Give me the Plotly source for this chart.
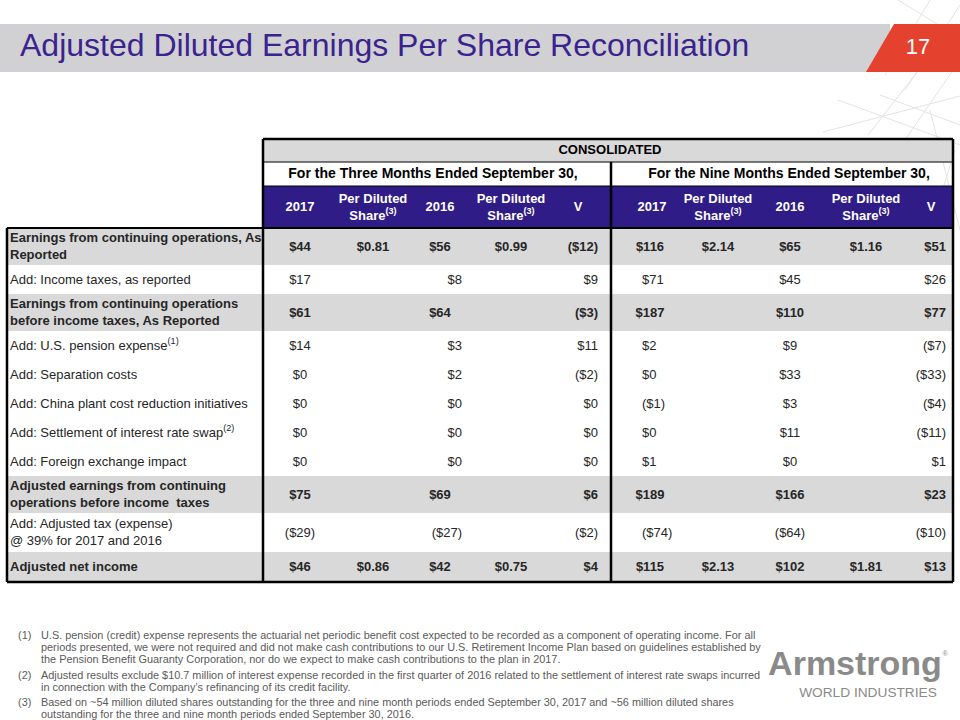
import plotly.graph_objects as go

# ---------------- data ----------------
title = "Adjusted Diluted Earnings Per Share Reconciliation"
page_no = "17"
group_title = "CONSOLIDATED"
period_titles = ["For the Three Months Ended September 30,", "For the Nine Months Ended September 30,"]
col_headers = ["2017", "Per Diluted<br>Share<sup>(3)</sup>", "2016", "Per Diluted<br>Share<sup>(3)</sup>", "V",
               "2017", "Per Diluted<br>Share<sup>(3)</sup>", "2016", "Per Diluted<br>Share<sup>(3)</sup>", "V"]

labels = [
    "Earnings from continuing operations, As<br>Reported",
    "Add: Income taxes, as reported",
    "Earnings from continuing operations<br>before income taxes, As Reported",
    "Add: U.S. pension expense<sup>(1)</sup>",
    "Add: Separation costs",
    "Add: China plant cost reduction initiatives",
    "Add: Settlement of interest rate swap<sup>(2)</sup>",
    "Add: Foreign exchange impact",
    "Adjusted earnings from continuing<br>operations before income  taxes",
    "Add: Adjusted tax (expense)<br>@ 39% for 2017 and 2016",
    "Adjusted net income",
]
bold_rows = [True, False, True, False, False, False, False, False, True, False, True]

q3_2017 = ["$44", "$17", "$61", "$14", "$0", "$0", "$0", "$0", "$75", "($29)", "$46"]
q3_2017_ps = ["$0.81", "", "", "", "", "", "", "", "", "", "$0.86"]
q3_2016 = ["$56", "$8", "$64", "$3", "$2", "$0", "$0", "$0", "$69", "($27)", "$42"]
q3_2016_ps = ["$0.99", "", "", "", "", "", "", "", "", "", "$0.75"]
q3_var = ["($12)", "$9", "($3)", "$11", "($2)", "$0", "$0", "$0", "$6", "($2)", "$4"]
ytd_2017 = ["$116", "$71", "$187", "$2", "$0", "($1)", "$0", "$1", "$189", "($74)", "$115"]
ytd_2017_ps = ["$2.14", "", "", "", "", "", "", "", "", "", "$2.13"]
ytd_2016 = ["$65", "$45", "$110", "$9", "$33", "$3", "$11", "$0", "$166", "($64)", "$102"]
ytd_2016_ps = ["$1.16", "", "", "", "", "", "", "", "", "", "$1.81"]
ytd_var = ["$51", "$26", "$77", "($7)", "($33)", "($4)", "($11)", "$1", "$23", "($10)", "$13"]

footnotes = [
    ("(1)", ["U.S. pension (credit) expense represents the actuarial net periodic benefit cost expected to be recorded as a component of operating income. For all",
             "periods presented, we were not required and did not make cash contributions to our U.S. Retirement Income Plan based on guidelines established by",
             "the Pension Benefit Guaranty Corporation, nor do we expect to make cash contributions to the plan in 2017."]),
    ("(2)", ["Adjusted results exclude $10.7 million of interest expense recorded in the first quarter of 2016 related to the settlement of interest rate swaps incurred",
             "in connection with the Company\u2019s refinancing of its credit facility."]),
    ("(3)", ["Based on ~54 million diluted shares outstanding for the three and nine month periods ended September 30, 2017 and ~56 million diluted shares",
             "outstanding for the three and nine month periods ended September 30, 2016."]),
]

# ---------------- layout constants ----------------
FONT = "Arial, 'Liberation Sans', sans-serif"
PURPLE = "#2f1c87"
TITLE_C = "#3a238f"
GRAY_ROW = "#d9d9d9"
TXT = "#262626"

L_X0, T_X0, T_MID, T_X1 = 7, 263, 611, 953
Y_TOP, Y_PER, Y_HDR, Y_BODY = 139, 162, 186, 228
row_heights = [37, 29, 37, 29, 29, 29, 29, 29, 37, 39, 30]

row_top = []
y = Y_BODY
for h in row_heights:
    row_top.append(y)
    y += h
Y_BOT = y
row_mid = [t + h / 2 for t, h in zip(row_top, row_heights)]

hdr_x = [300, 373, 440, 511, 578, 652, 718, 790, 866, 931]

# (series, x for normal rows, pos for normal, x for bold rows, pos for bold)
col_specs = [
    (q3_2017, 300, "middle center", 300, "middle center"),
    (q3_2017_ps, 373, "middle center", 373, "middle center"),
    (q3_2016, 462, "middle left", 440, "middle center"),
    (q3_2016_ps, 511, "middle center", 511, "middle center"),
    (q3_var, 598, "middle left", 598, "middle left"),
    (ytd_2017, 642, "middle right", 650, "middle center"),
    (ytd_2017_ps, 718, "middle center", 718, "middle center"),
    (ytd_2016, 790, "middle center", 790, "middle center"),
    (ytd_2016_ps, 866, "middle center", 866, "middle center"),
    (ytd_var, 946, "middle left", 946, "middle left"),
]

fig = go.Figure()
shapes = []

# background decorative lattice
deco = [
    (898, 0, 960, 38), (930, 0, 885, 75), (960, 5, 905, 90),
    (823, 132, 960, 96), (838, 100, 960, 145), (868, 135, 925, 62),
    (905, 140, 960, 60), (930, 110, 960, 230), (955, 150, 930, 230),
    (880, 95, 960, 125),
]
for x0, y0, x1, y1 in deco:
    shapes.append(dict(type="line", x0=x0, y0=y0, x1=x1, y1=y1, xref="x", yref="y",
                       line=dict(color="#e3e3e3", width=1), layer="below"))

# title band
shapes.append(dict(type="rect", x0=0, x1=890, y0=24, y1=72, xref="x", yref="y",
                   fillcolor="#d1d1d3", line=dict(width=0), layer="below"))
shapes.append(dict(type="path", path="M 894 24 L 960 24 L 960 72 L 866 72 Z", xref="x", yref="y",
                   fillcolor="#e5412f", line=dict(width=0), layer="below"))

# table fills
shapes.append(dict(type="rect", x0=T_X0, x1=T_X1, y0=Y_TOP, y1=Y_PER, xref="x", yref="y",
                   fillcolor=GRAY_ROW, line=dict(width=0), layer="below"))
shapes.append(dict(type="rect", x0=T_X0, x1=T_X1, y0=Y_HDR, y1=Y_BODY, xref="x", yref="y",
                   fillcolor=PURPLE, line=dict(width=0), layer="below"))
for i, b in enumerate(bold_rows):
    if b:
        shapes.append(dict(type="rect", x0=L_X0, x1=T_X1, y0=row_top[i], y1=row_top[i] + row_heights[i],
                           xref="x", yref="y", fillcolor=GRAY_ROW, line=dict(width=0), layer="below"))

# borders
def ln(x0, y0, x1, y1, w=2.5):
    shapes.append(dict(type="line", x0=x0, y0=y0, x1=x1, y1=y1, xref="x", yref="y",
                       line=dict(color="black", width=w)))

ln(T_X0, Y_TOP, T_X1, Y_TOP)
ln(T_X1, Y_TOP, T_X1, Y_BOT)
ln(L_X0, Y_BOT, T_X1, Y_BOT)
ln(L_X0, Y_BODY, L_X0, Y_BOT)
ln(L_X0, Y_BODY, T_X1, Y_BODY, 2)
ln(T_X0, Y_TOP, T_X0, Y_BOT)
ln(T_MID, Y_PER, T_MID, Y_BOT)
ln(T_X0, Y_PER, T_X1, Y_PER, 1.2)
ln(T_X0, Y_HDR, T_X1, Y_HDR, 1)

def text_trace(xs, ys, texts, pos, size=13, color=TXT, family=FONT):
    fig.add_trace(go.Scatter(x=xs, y=ys, mode="text", text=texts, textposition=pos,
                             textfont=dict(size=size, color=color, family=family),
                             hoverinfo="skip", showlegend=False))

# title + page number
text_trace([20], [48], [title], "middle right", size=32, color=TITLE_C)
text_trace([918], [48], [page_no], "middle center", size=22, color="white")

# header texts
text_trace([610], [(Y_TOP + Y_PER) / 2], ["<b>" + group_title + "</b>"], "middle center", color="black")
text_trace([433, 789], [(Y_PER + Y_HDR) / 2] * 2, ["<b>" + t + "</b>" for t in period_titles],
           "middle center", size=14, color="black")
text_trace(hdr_x, [(Y_HDR + Y_BODY) / 2 + 1] * len(hdr_x), ["<b>" + t + "</b>" for t in col_headers],
           "middle center", color="white")

# row labels
text_trace([10] * len(labels), [m + 1 for m in row_mid],
           [("<b>" + l + "</b>") if b else l for l, b in zip(labels, bold_rows)],
           "middle right", color=TXT)

# values
for series, xn, pn, xb, pb in col_specs:
    xs, ys, ts, ps = [], [], [], []
    for i, v in enumerate(series):
        if not v:
            continue
        b = bold_rows[i]
        xs.append(xb if b else xn)
        ys.append(row_mid[i] + 1)
        ts.append(("<b>" + v + "</b>") if b else v)
        ps.append(pb if b else pn)
    text_trace(xs, ys, ts, ps, color=TXT)

# footnotes
fy = [[636, 648, 660], [676, 688], [703, 715]]
for (num, lines), ys in zip(footnotes, fy):
    text_trace([18], [ys[0]], [num], "middle right", size=10.9, color="#5a5a5a")
    text_trace([41] * len(lines), ys, lines, ["middle right"] * len(lines), size=10.9, color="#5a5a5a")

# logo
text_trace([855], [666], ["<b>Armstrong</b>"], "middle center", size=34, color="#8a8a8a")
text_trace([945], [654], ["\u00ae"], "middle center", size=7, color="#8a8a8a")
text_trace([868], [694], ["WORLD INDUSTRIES"], "middle center", size=13.7, color="#8a8a8a")

fig.update_layout(
    width=960, height=720,
    margin=dict(l=0, r=0, t=0, b=0),
    paper_bgcolor="white", plot_bgcolor="white",
    xaxis=dict(range=[0, 960], visible=False, fixedrange=True),
    yaxis=dict(range=[720, 0], visible=False, fixedrange=True),
    shapes=shapes,
    showlegend=False,
    font=dict(family=FONT),
)
fig.write_html("out.html", config={"displayModeBar": False},
               post_script="document.body.style.margin='0';document.body.style.overflow='hidden';")
